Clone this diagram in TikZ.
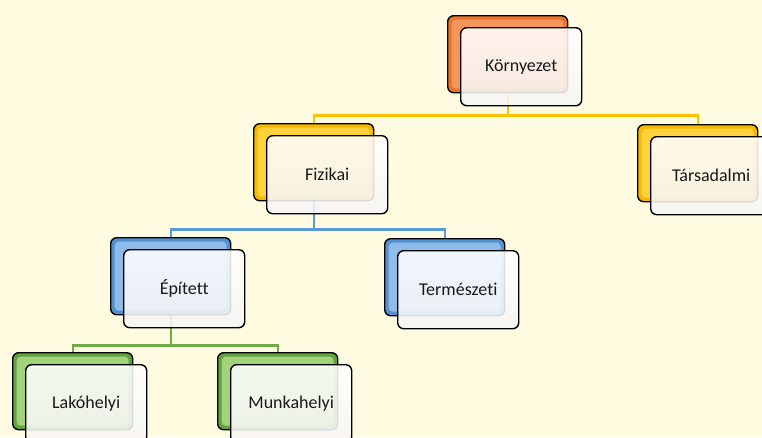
\documentclass[tikz,border=0pt]{standalone}
\usepackage{fontspec}
\setmainfont{Carlito}[Ligatures={NoCommon}]
\usetikzlibrary{backgrounds}
\definecolor{bg}{HTML}{FFFBE0}
\definecolor{orD}{HTML}{E8742E}
\definecolor{orL}{HTML}{F5955A}
\definecolor{yeD}{HTML}{F7B900}
\definecolor{yeL}{HTML}{FFD23C}
\definecolor{blD}{HTML}{5291CF}
\definecolor{blL}{HTML}{8FBCE8}
\definecolor{grD}{HTML}{64A23C}
\definecolor{grL}{HTML}{A3D27F}
\definecolor{conY}{HTML}{FFC000}
\definecolor{conB}{HTML}{5B9BD5}
\definecolor{conG}{HTML}{70AD47}
\tikzset{
  backbox/.style n args={2}{draw=black, line width=1.4pt, rounded corners=6pt,
    minimum width=120pt, minimum height=77pt, anchor=north west, inner sep=0pt,
    fill=#1,
    path picture={\fill[#2, rounded corners=4pt]
      ([shift={(4,4)}]path picture bounding box.north west) rectangle
      ([shift={(-4,-4)}]path picture bounding box.south east);}},
  frontbox/.style={draw=black, line width=1.4pt, rounded corners=6pt,
    minimum width=121pt, minimum height=78pt, anchor=north west, inner sep=0pt,
    top color=white, bottom color=black!4, fill opacity=0.88, text opacity=1,
    font=\fontsize{18}{21}\selectfont, text=black!90},
  conn/.style={line width=2.4pt}
}
\begin{document}
\begin{tikzpicture}[x=1pt,y=-1pt]
\useasboundingbox (0,0) rectangle (762,437);
% Környezet
\node[backbox={orD}{orL}] (kb) at (447,15) {};
\node[frontbox] (kf) at ([shift={(13,12)}]kb.north west) {Környezet};
% Fizikai
\node[backbox={yeD}{yeL}] (fb) at (253,123) {};
\node[frontbox] (ff) at ([shift={(13,12)}]fb.north west) {Fizikai};
% Társadalmi
\node[backbox={yeD}{yeL}] (tb) at (637,124) {};
\node[frontbox] (tf) at ([shift={(13,12)}]tb.north west) {Társadalmi};
% Épített
\node[backbox={blD}{blL}] (eb) at (110,237) {};
\node[frontbox] (ef) at ([shift={(13,12)}]eb.north west) {Épített};
% Természeti
\node[backbox={blD}{blL}] (nb) at (384,238) {};
\node[frontbox] (nf) at ([shift={(13,12)}]nb.north west) {Természeti};
% Lakóhelyi
\node[backbox={grD}{grL}] (lb) at (12,352) {};
\node[frontbox] (lf) at ([shift={(13,12)}]lb.north west) {Lakóhelyi};
% Munkahelyi
\node[backbox={grD}{grL}] (mb) at (217,352) {};
\node[frontbox] (mf) at ([shift={(13,12)}]mb.north west) {Munkahelyi};
\begin{scope}[on background layer]
\fill[bg] (0,0) rectangle (762,437);
\draw[conn, conY] (kb.south) -- ++(0,22) coordinate (k1) -| (fb.north);
\draw[conn, conY] (k1) -| (tb.north);
\draw[conn, conB] (fb.south) -- ++(0,28) coordinate (f1) -| (eb.north);
\draw[conn, conB] (f1) -| (nb.north);
\draw[conn, conG] (eb.south) -- ++(0,30) coordinate (e1) -| (lb.north);
\draw[conn, conG] (e1) -| (mb.north);
\end{scope}
\end{tikzpicture}
\end{document}
